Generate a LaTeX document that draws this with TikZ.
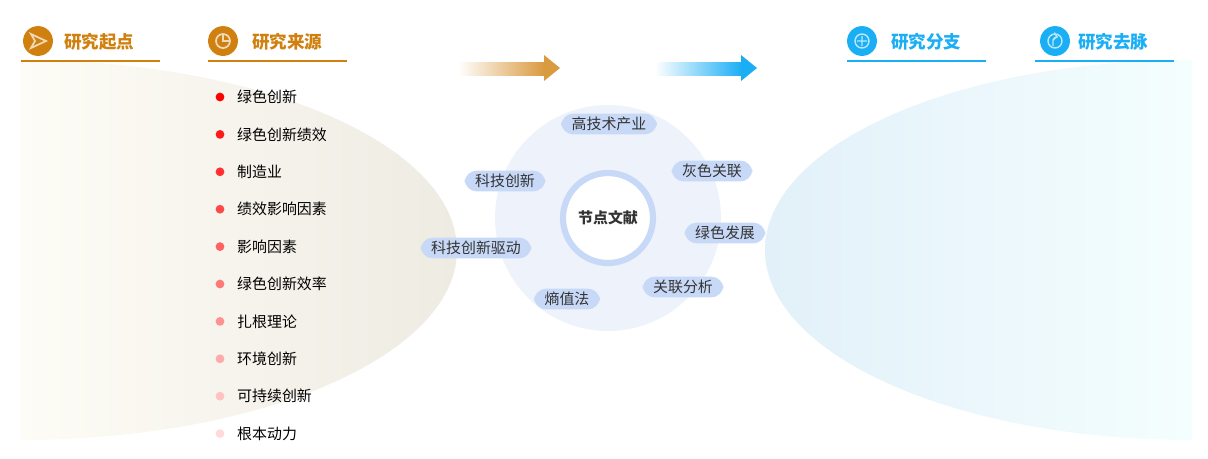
\documentclass[tikz,border=0pt]{standalone}
\usepackage{fontspec}
\setmainfont{Noto Sans CJK SC}
\usetikzlibrary{positioning}
\definecolor{gold}{HTML}{D0800F}
\definecolor{sky}{HTML}{1AAEF5}
\definecolor{pill}{HTML}{C8D9F8}
\definecolor{sandl}{HTML}{FDFCF6}
\definecolor{sandr}{HTML}{EEEBE2}
\definecolor{icel}{HTML}{E2F0F9}
\definecolor{icer}{HTML}{F4FEFE}
\definecolor{halo}{HTML}{EEF2FB}
\tikzset{
  head/.style={font=\fontsize{10}{12}\selectfont\bfseries, anchor=west},
  item/.style={font=\fontsize{8.5}{10}\selectfont, anchor=west},
  kw/.style={fill=pill, rounded corners=7pt, inner xsep=6pt, inner ysep=2pt, font=\fontsize{8.5}{10}\selectfont, text=black!80},
  dot/.style={circle, fill=#1, inner sep=0pt, minimum size=5pt},
  badge/.style={circle, fill=#1, minimum size=17pt, inner sep=0pt}
}
\begin{document}
\begin{tikzpicture}[x=0.02cm,y=-0.02cm]
  \useasboundingbox (0,0) rectangle (1208,458);
  % background shapes
  \begin{scope}
    \clip (20,250) ellipse [x radius=437, y radius=190];
    \shade[left color=sandl, right color=sandr] (20,60) rectangle (457,440);
  \end{scope}
  \begin{scope}
    \clip (1192,250) ellipse [x radius=427, y radius=190];
    \shade[left color=icel, right color=icer] (765,60) rectangle (1192,440);
  \end{scope}
  % headers
  \node[badge=gold] (ia) at (38,41) {};
  \node[badge=gold] (ib) at (223,41) {};
  \node[badge=sky] (ic) at (862,41) {};
  \node[badge=sky] (id) at (1055,41) {};
  \draw[white!70!gold, line width=1pt] (31,34) -- (46,41) -- (31,48) -- (35,41) -- cycle;
  \draw[white!70!gold, line width=1pt] (223,41) circle [radius=7] (223,34) -- (223,41) -- (230,41);
  \draw[white!70!sky, line width=0.8pt] (862,41) circle [radius=7] (857,41) -- (867,41) (862,36) -- (862,46);
  \draw[white!70!sky, line width=0.8pt] (1055,41) circle [radius=7];
  \draw[white!70!sky, line width=0.8pt, ->] (1053,46) -- (1053,40) to[bend left=40] (1058,37);
  \node[head, text=gold] (ha) at (58,42) {研究起点};
  \node[head, text=gold] (hb) at (246,42) {研究来源};
  \node[head, text=sky] (hc) at (885,42) {研究分支};
  \node[head, text=sky] (hd) at (1072,42) {研究去脉};
  \draw[gold, line width=1.2pt] (21,61) -- (160,61);
  \draw[gold, line width=1.2pt] (208,61) -- (347,61);
  \draw[sky, line width=1.2pt] (847,61) -- (986,61);
  \draw[sky, line width=1.2pt] (1035,61) -- (1174,61);
  % arrows
  \shade[left color=white, right color=gold!80] (458,62) rectangle (545,75);
  \fill[gold!80] (544,55) -- (560,68) -- (544,81) -- cycle;
  \shade[left color=white, right color=sky] (655,62) rectangle (742,75);
  \fill[sky] (741,55) -- (757,68) -- (741,81) -- cycle;
  % source list
  \foreach \t [count=\i] in {绿色创新,绿色创新绩效,制造业,绩效影响因素,影响因素,绿色创新效率,扎根理论,环境创新,可持续创新,根本动力} {
    \pgfmathsetmacro{\shadeval}{100-(\i-1)*9.5}
    \node[dot=red!\shadeval!white] (b\i) at (220,{97+(\i-1)*37.4}) {};
    \node[item] (s\i) at (231,{97+(\i-1)*37.4}) {\t};
  }
  % centre
  \fill[halo] (608,218) circle [radius=113];
  \draw[pill, line width=3.5pt, fill=white] (608,218) circle [radius=45];
  \node[font=\fontsize{8.5}{10}\selectfont\bfseries, text=black!80] (core) at (608,218) {节点文献};
  \node[kw] (k1) at (609,124) {高技术产业};
  \node[kw] (k2) at (712,171) {灰色关联};
  \node[kw] (k3) at (725,233) {绿色发展};
  \node[kw] (k4) at (683,287) {关联分析};
  \node[kw] (k5) at (567,299) {熵值法};
  \node[kw] (k6) at (476,248) {科技创新驱动};
  \node[kw] (k7) at (505,181) {科技创新};
\end{tikzpicture}
\end{document}
